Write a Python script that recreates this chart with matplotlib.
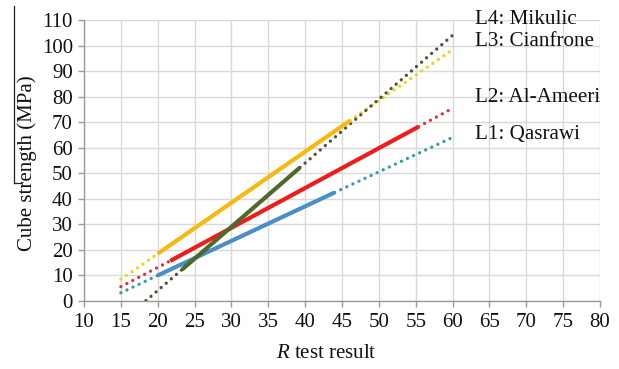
import matplotlib
matplotlib.use("Agg")
import matplotlib.pyplot as plt
from matplotlib.lines import Line2D

plt.rcParams["font.family"] = ["Liberation Serif", "DejaVu Serif"]
plt.rcParams["mathtext.fontset"] = "custom"
plt.rcParams["mathtext.rm"] = "Liberation Serif"
plt.rcParams["mathtext.it"] = "Liberation Serif:italic"

# ===== data =====
# each line: [dotted start, solid start, solid end, dotted end]
l1_x = [15, 20, 44, 60]
l1_y = [3.1, 9.9, 42.4, 64.0]
l2_x = [15, 21.7, 55.4, 60]
l2_y = [5.5, 15.6, 68.2, 75.4]
l3_x = [15, 20, 46.1, 60]
l3_y = [8.4, 18.4, 70.6, 98.4]
l4_x = [18.4, 23.3, 39.3, 60]
l4_y = [0.0, 12.2, 52.2, 104.0]

names = ["L1: Qasrawi", "L2: Al-Ameeri", "L3: Cianfrone", "L4: Mikulic"]
solid_colors = ["#4a8ec6", "#ee1c1c", "#f6b90f", "#4f6a28"]
dot_colors = ["#3a9aa6", "#e0303c", "#f0d020", "#4a5538"]
label_y = [135, 97, 42, 20]  # pixel rows of the right-hand labels

x_ticks = list(range(10, 81, 5))
y_ticks = list(range(0, 111, 10))

W, H = 619, 369
fig = plt.figure(figsize=(W / 100, H / 100), dpi=100)
ax = fig.add_axes([84 / W, 1 - 300.7 / H, 516 / W, 280.7 / H])

dotted = (0, (0.01, 2.0))
for xs, ys, sc, dc in zip([l1_x, l2_x, l3_x, l4_x], [l1_y, l2_y, l3_y, l4_y],
                          solid_colors, dot_colors):
    ax.plot(xs[0:2], ys[0:2], color=dc, lw=2.4, linestyle=dotted,
            dash_capstyle="round", zorder=3)
    ax.plot(xs[2:4], ys[2:4], color=dc, lw=2.4, linestyle=dotted,
            dash_capstyle="round", zorder=3)
    ax.plot(xs[1:3], ys[1:3], color=sc, lw=3.0, solid_capstyle="butt", zorder=4)

ax.set_xlim(10, 80)
ax.set_ylim(0, 110)
ax.set_xticks(x_ticks)
ax.set_yticks(y_ticks)
ax.grid(True, color="#d9d9d9", lw=1.0)
ax.set_axisbelow(True)
for s in ["top", "right"]:
    ax.spines[s].set_visible(False)
for s in ["left", "bottom"]:
    ax.spines[s].set_color("#9a9a9a")
    ax.spines[s].set_linewidth(1.0)
ax.tick_params(axis="both", direction="out", length=4, width=1.0,
               color="#9a9a9a", labelsize=15, labelcolor="#111111")
ax.tick_params(axis="y", pad=4)
ax.tick_params(axis="x", pad=5)

ax.set_ylabel("Cube strength (MPa)", fontsize=15, color="#111111")
ax.yaxis.set_label_coords(-0.092, 0.49)
ax.set_xlabel("$R$ test result", fontsize=15, color="#111111")
ax.xaxis.set_label_coords(0.47, -0.155)

for name, py in zip(names, label_y):
    fig.text(475 / W, 1 - py / H, name, fontsize=15.2, color="#111111",
             ha="left", va="center")

# stray crop line on the left edge of the scan
fig.add_artist(Line2D([14 / W, 14 / W], [1 - 6 / H, 1 - 183 / H],
                      color="#222222", lw=0.9))
fig.add_artist(Line2D([14 / W, 21 / W], [1 - 183 / H, 1 - 183 / H],
                      color="#222222", lw=0.9))

fig.savefig("out.png", dpi=100)
